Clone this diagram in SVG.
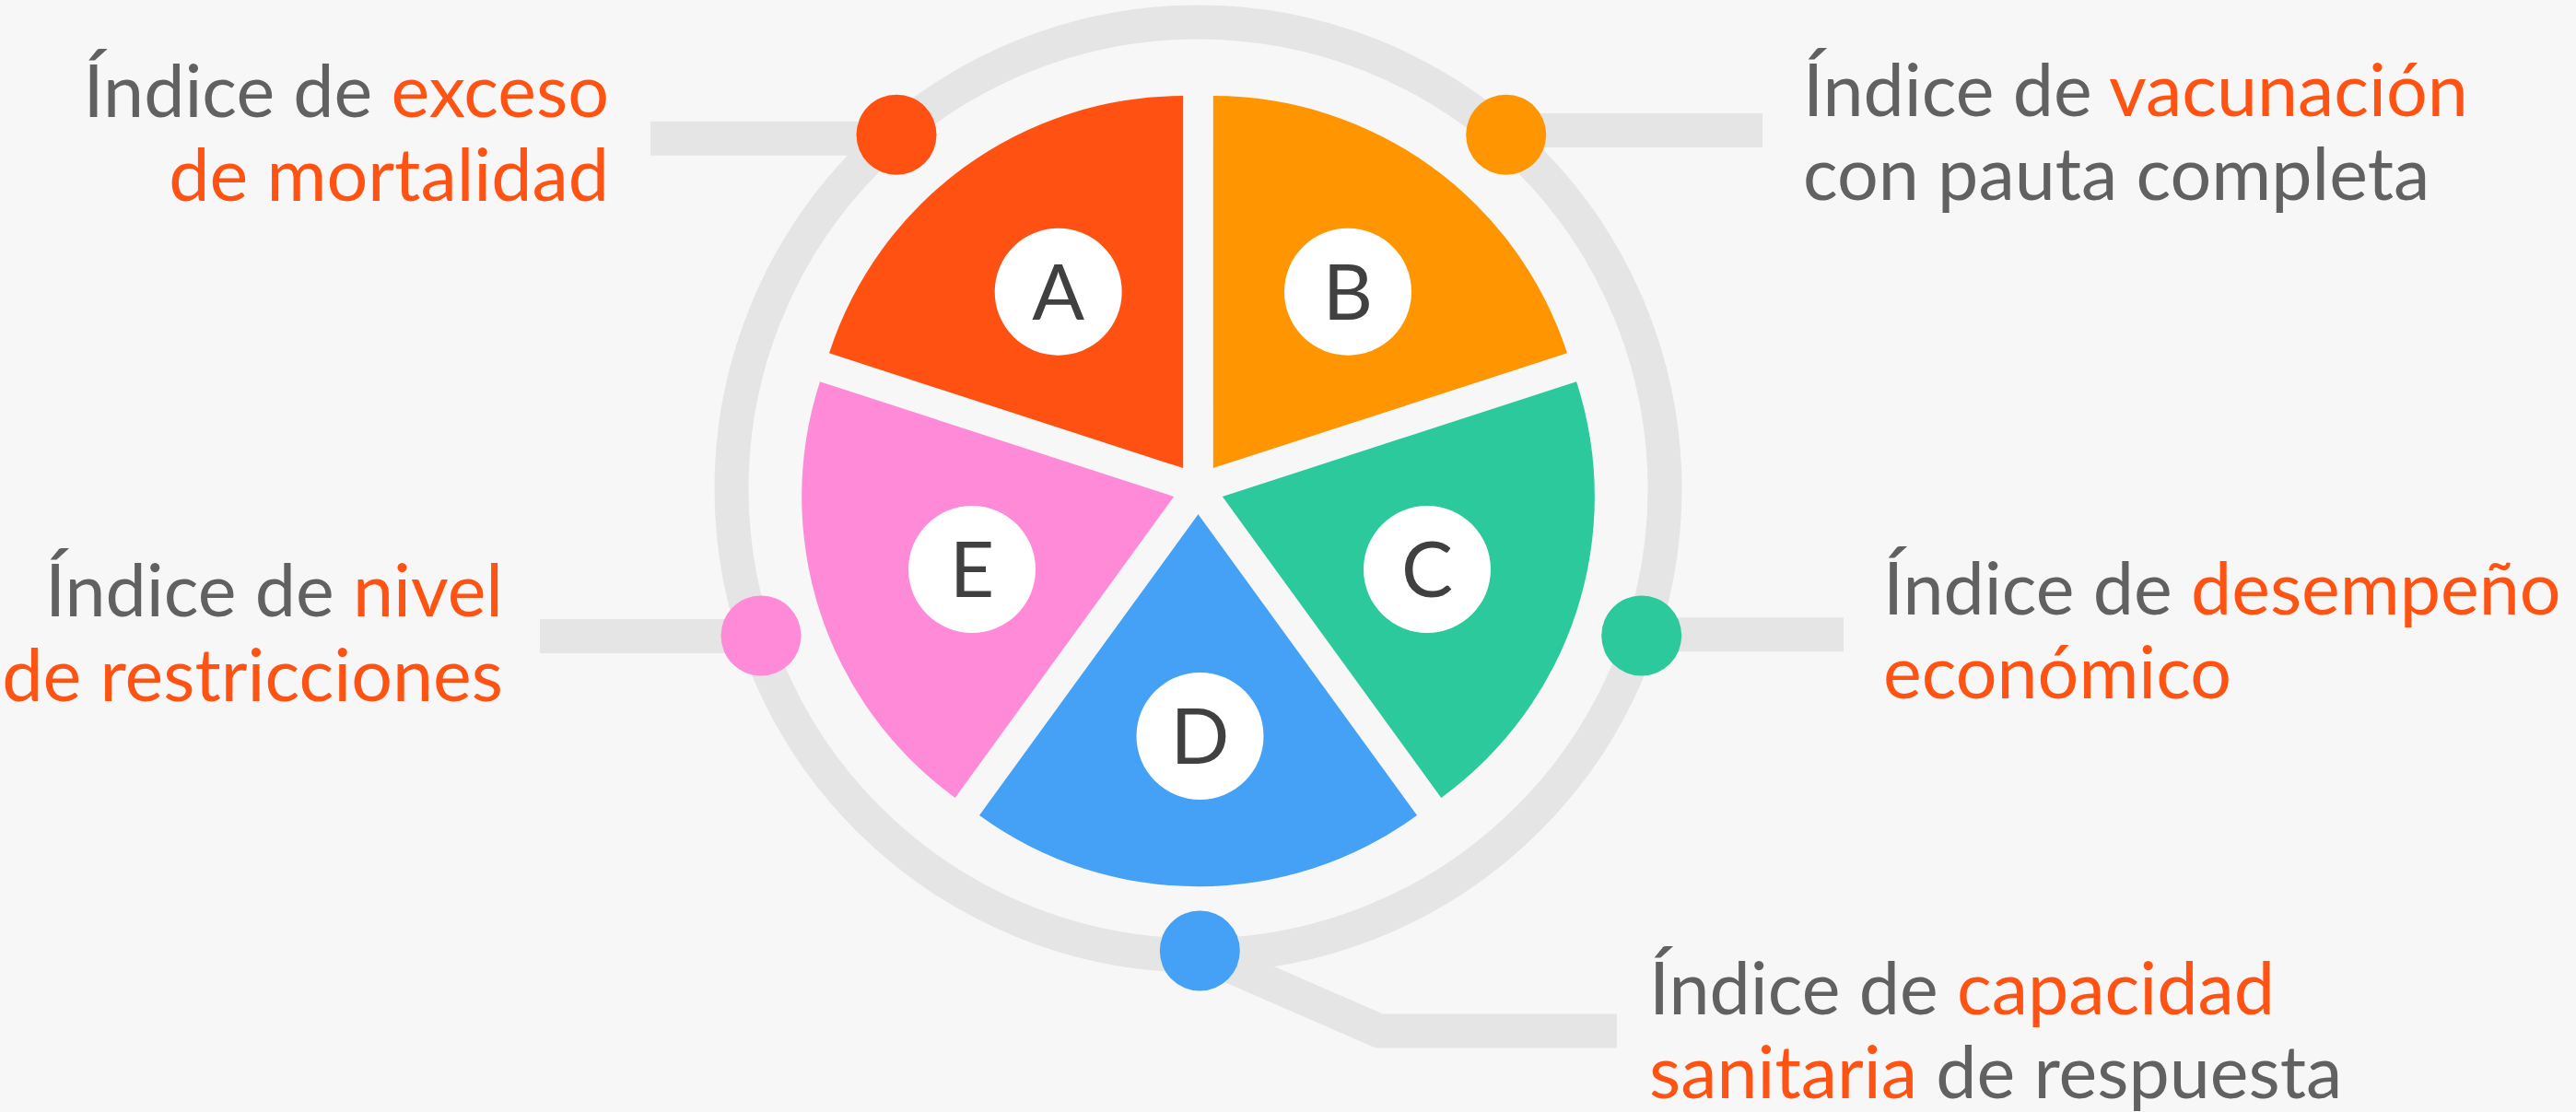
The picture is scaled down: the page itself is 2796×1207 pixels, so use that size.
<svg xmlns="http://www.w3.org/2000/svg" width="2796" height="1207" viewBox="0 0 2796 1207">
<defs>
<style>
.bg{fill:#F7F7F7}
.ring{fill:none;stroke:#E5E5E5;stroke-width:37}
.bar{fill:none;stroke:#E5E5E5;stroke-width:37;stroke-linecap:butt;stroke-linejoin:miter}
.lbl{font-family:Lato,"Liberation Sans",sans-serif;font-size:79px;fill:#616161}
.hl{fill:#FF5314}
.badge{fill:#FFFFFF}
.letter{font-family:Lato,"Liberation Sans",sans-serif;font-size:84px;fill:#404040;text-anchor:middle}
.cA{fill:#FF5112}.cB{fill:#FF9500}.cC{fill:#2BC99B}.cD{fill:#45A1F5}.cE{fill:#FF8AD8}
</style>
</defs>
<rect class="bg" x="0" y="0" width="2796" height="1207"/>
<g id="ring"><circle class="ring" cx="1300.5" cy="530.5" r="506.5"/></g>
<g id="connectors">
<line class="bar" x1="706" y1="150.3" x2="973" y2="150.3"/>
<line class="bar" x1="1634.7" y1="141.5" x2="1913" y2="141.5"/>
<line class="bar" x1="1781.7" y1="688.7" x2="2001" y2="688.7"/>
<line class="bar" x1="586" y1="690.5" x2="826" y2="690.5"/>
<polyline class="bar" points="1302,1034 1497,1119 1755,1119"/>
</g>
<g id="dots">
<circle class="cA" cx="973" cy="146.3" r="43.5"/>
<circle class="cB" cx="1634.7" cy="146.3" r="43.5"/>
<circle class="cC" cx="1781.7" cy="690" r="43.5"/>
<circle class="cD" cx="1302.3" cy="1032" r="43.5"/>
<circle class="cE" cx="826" cy="690" r="43.5"/>
</g>
<g id="node-A">
<path class="cA" d="M1284.2,508.1 L900,383.3 A404,404 0 0 1 1284.2,104.1 Z"/>
<circle class="badge" cx="1148.7" cy="316.7" r="69"/>
<text class="letter" x="1148.7" y="347">A</text>
</g>
<g id="node-B">
<path class="cB" d="M1316.8,508.1 L1316.8,104.1 A404,404 0 0 1 1701,383.3 Z"/>
<circle class="badge" cx="1463" cy="316.7" r="69"/>
<text class="letter" x="1463" y="347">B</text>
</g>
<g id="node-C">
<path class="cC" d="M1326.85,539.06 L1711.1,414.2 A404,404 0 0 1 1564.3,865.9 Z"/>
<circle class="badge" cx="1549" cy="618" r="69"/>
<text class="letter" x="1549" y="648.3">C</text>
</g>
<g id="node-D">
<path class="cD" d="M1300.5,558.2 L1538,885 A404,404 0 0 1 1063,885 Z"/>
<circle class="badge" cx="1302.5" cy="799" r="69"/>
<text class="letter" x="1302.5" y="829.3">D</text>
</g>
<g id="node-E">
<path class="cE" d="M1274.15,539.06 L1036.7,865.9 A404,404 0 0 1 889.95,414.2 Z"/>
<circle class="badge" cx="1055" cy="618" r="69"/>
<text class="letter" x="1055" y="648.3">E</text>
</g>
<g id="label-A">
<text class="lbl" x="661" y="126.5" text-anchor="end">Índice de <tspan class="hl">exceso</tspan></text>
<text class="lbl hl" x="661" y="217.5" text-anchor="end">de mortalidad</text>
</g>
<g id="label-B">
<text class="lbl" x="1957" y="126">Índice de <tspan class="hl">vacunación</tspan></text>
<text class="lbl" x="1957" y="217">con pauta completa</text>
</g>
<g id="label-C">
<text class="lbl" x="2044" y="667">Índice de <tspan class="hl">desempeño</tspan></text>
<text class="lbl hl" x="2044" y="758">económico</text>
</g>
<g id="label-D">
<text class="lbl" x="1790" y="1101">Índice de <tspan class="hl">capacidad</tspan></text>
<text class="lbl" x="1790" y="1192"><tspan class="hl">sanitaria</tspan> de respuesta</text>
</g>
<g id="label-E">
<text class="lbl" x="546" y="669" text-anchor="end">Índice de <tspan class="hl">nivel</tspan></text>
<text class="lbl hl" x="546" y="761" text-anchor="end">de restricciones</text>
</g>
</svg>
